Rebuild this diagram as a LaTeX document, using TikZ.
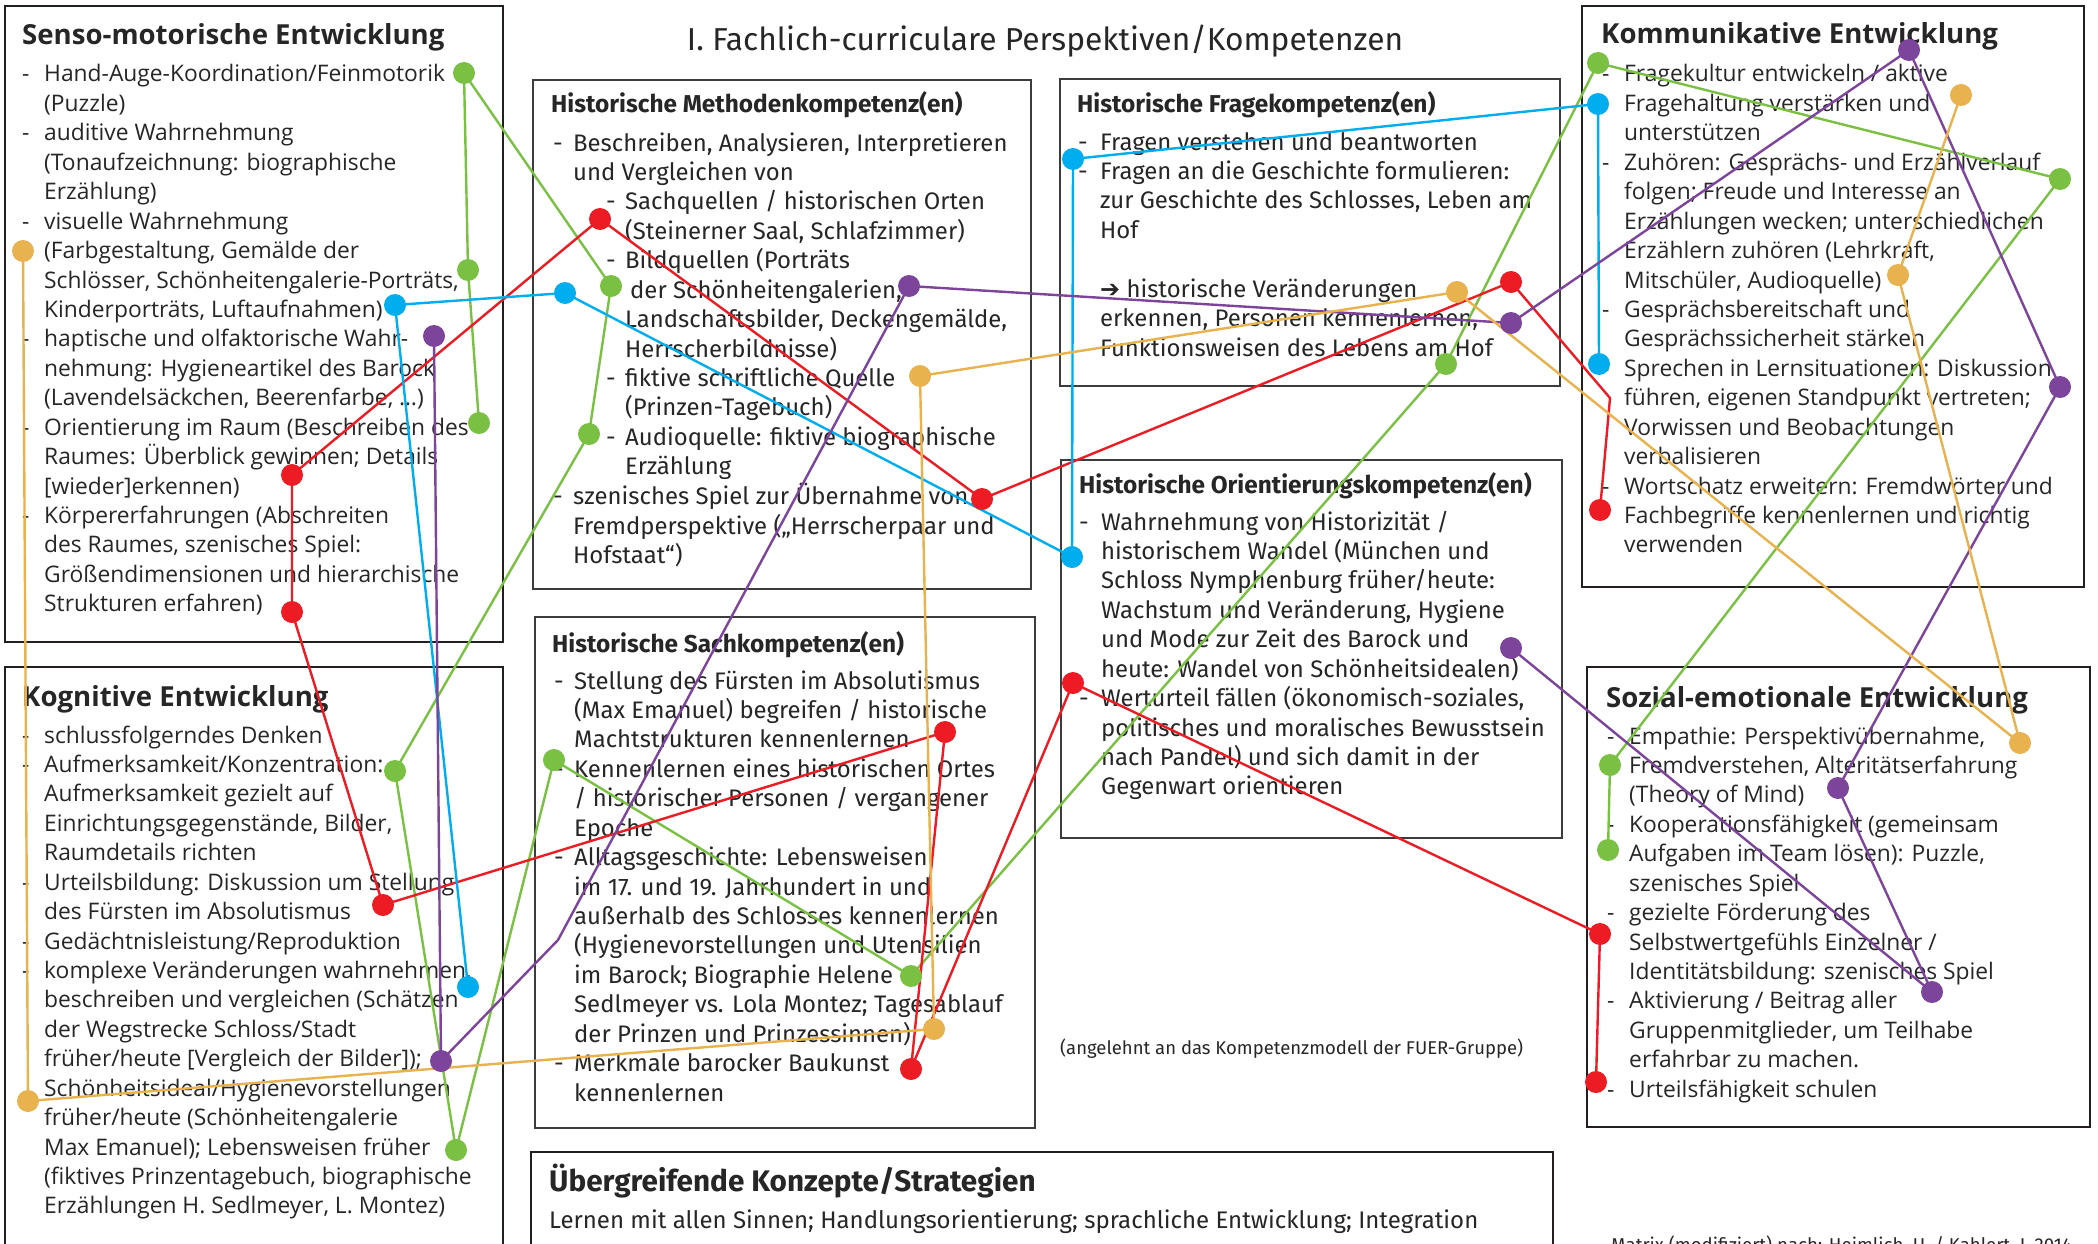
\documentclass[tikz,border=0pt]{standalone}
\usepackage{fontspec}
\setmainfont{Open Sans}
\newfontfamily\sidefont{Open Sans}
\newfontfamily\midfont{Fira Sans}
\newfontfamily\symfont{DejaVu Sans}
\usepackage{array}
\definecolor{cgreen}{HTML}{7AC143}
\definecolor{cred}{HTML}{ED1C24}
\definecolor{cblue}{HTML}{00AEEF}
\definecolor{cpurple}{HTML}{7D449B}
\definecolor{corange}{HTML}{E8B24F}
\definecolor{boxdark}{HTML}{231F20}
\definecolor{boxgray}{HTML}{3C3C3C}
\definecolor{txt}{HTML}{262626}
\pgfdeclarelayer{bg}
\pgfdeclarelayer{lines}
\pgfsetlayers{bg,lines,main}
\tikzset{
  sbox/.style={draw=boxdark, line width=2.8pt},
  mbox/.style={draw=boxgray, line width=1.5pt},
  dot/.style={circle, inner sep=0pt, minimum size=22pt},
  conn/.style={line width=2.4pt, line join=round},
  sidetxt/.style={anchor=base west, inner sep=0pt, text=txt, font=\sidefont\fontsize{22.8}{29.43}\selectfont},
  sidehead/.style={anchor=base west, inner sep=0pt, text=txt, font=\sidefont\bfseries\fontsize{27.6}{32}\selectfont},
  midtxt/.style={anchor=base west, inner sep=0pt, text=txt, font=\midfont\fontsize{23.9}{29.43}\selectfont},
  midhead/.style={anchor=base west, inner sep=0pt, text=txt, font=\midfont\bfseries\fontsize{24.4}{28}\selectfont},
}
\newcommand\Sdot[3]{\node[dot, fill=#1] (#2) at (#3) {};}
\begin{document}
\begin{tikzpicture}[x=1pt,y=-1pt]
\useasboundingbox (0,0) rectangle (2098,1244);
\clip (0,0) rectangle (2098,1244);

\begin{pgfonlayer}{bg}
\fill[white] (0,0) rectangle (2098,1244);
% ---------- boxes ----------
\draw[sbox] (5,6) rectangle (503,642);
\draw[sbox] (5,667) rectangle (503,1270);
\draw[sbox] (1582,6) rectangle (2084,587);
\draw[sbox] (1587,667) rectangle (2090,1127);
\draw[sbox] (531,1152) rectangle (1553,1270);
\draw[mbox] (533,80) rectangle (1031,589);
\draw[mbox] (1060,79) rectangle (1560,386);
\draw[mbox] (535,617) rectangle (1035,1128);
\draw[mbox] (1061,460) rectangle (1562,838);

% ---------- title ----------
\node[anchor=base, inner sep=0pt, text=txt, font=\midfont\fontsize{31.7}{36}\selectfont] (title) at (1045,51) {I. Fachlich-curriculare Perspektiven/Kompetenzen};

% ---------- Senso ----------
\node[sidehead] (sensoH) at (22,45) {Senso-motorische Entwicklung};
\node[sidetxt] (sensoL) at (22,82) {\begin{tabular}[t]{@{}p{22pt}@{}l@{}}
-&Hand-Auge-Koordination/Feinmotorik\\
&(Puzzle)\\
-&auditive Wahrnehmung\\
&(Tonaufzeichnung: biographische\\
&Erzählung)\\
-&visuelle Wahrnehmung\\
&(Farbgestaltung, Gemälde der\\
&Schlösser, Schönheitengalerie-Porträts,\\
&Kinderporträts, Luftaufnahmen)\\
-&haptische und olfaktorische Wahr-\\
&nehmung: Hygieneartikel des Barock\\
&(Lavendelsäckchen, Beerenfarbe, …)\\
-&Orientierung im Raum (Beschreiben des\\
&Raumes: Überblick gewinnen; Details\\
&[wieder]erkennen)\\
-&Körpererfahrungen (Abschreiten\\
&des Raumes, szenisches Spiel:\\
&Größendimensionen und hierarchische\\
&Strukturen erfahren)
\end{tabular}};

% ---------- Kognitive ----------
\node[sidehead] (kogH) at (22,706) {Kognitive Entwicklung};
\node[sidetxt] (kogL) at (22,743) {\begin{tabular}[t]{@{}p{22pt}@{}l@{}}
-&schlussfolgerndes Denken\\
-&Aufmerksamkeit/Konzentration:\\
&Aufmerksamkeit gezielt auf\\
&Einrichtungsgegenstände, Bilder,\\
&Raumdetails richten\\
-&Urteilsbildung: Diskussion um Stellung\\
&des Fürsten im Absolutismus\\
-&Gedächtnisleistung/Reproduktion\\
-&komplexe Veränderungen wahrnehmen,\\
&beschreiben und vergleichen (Schätzen\\
&der Wegstrecke Schloss/Stadt\\
&früher/heute [Vergleich der Bilder]);\\
&Schönheitsideal/Hygienevorstellungen\\
&früher/heute (Schönheitengalerie\\
&Max Emanuel); Lebensweisen früher\\
&(fiktives Prinzentagebuch, biographische\\
&Erzählungen H. Sedlmeyer, L. Montez)
\end{tabular}};

% ---------- Kommunikative ----------
\node[sidehead] (komH) at (1601,44) {Kommunikative Entwicklung};
\node[sidetxt] (komL) at (1602,82) {\begin{tabular}[t]{@{}p{22pt}@{}l@{}}
-&Fragekultur entwickeln / aktive\\
&Fragehaltung verstärken und\\
&unterstützen\\
-&Zuhören: Gesprächs- und Erzählverlauf\\
&folgen; Freude und Interesse an\\
&Erzählungen wecken; unterschiedlichen\\
&Erzählern zuhören (Lehrkraft,\\
&Mitschüler, Audioquelle)\\
-&Gesprächsbereitschaft und\\
&Gesprächssicherheit stärken\\
-&Sprechen in Lernsituationen: Diskussion\\
&führen, eigenen Standpunkt vertreten;\\
&Vorwissen und Beobachtungen\\
&verbalisieren\\
-&Wortschatz erweitern: Fremdwörter und\\
&Fachbegriffe kennenlernen und richtig\\
&verwenden
\end{tabular}};

% ---------- Sozial ----------
\node[sidehead] (sozH) at (1606,707) {Sozial-emotionale Entwicklung};
\node[sidetxt] (sozL) at (1607,744) {\begin{tabular}[t]{@{}p{22pt}@{}l@{}}
-&Empathie: Perspektivübernahme,\\
&Fremdverstehen, Alteritätserfahrung\\
&(Theory of Mind)\\
-&Kooperationsfähigkeit (gemeinsam\\
&Aufgaben im Team lösen): Puzzle,\\
&szenisches Spiel\\
-&gezielte Förderung des\\
&Selbstwertgefühls Einzelner /\\
&Identitätsbildung: szenisches Spiel\\
-&Aktivierung / Beitrag aller\\
&Gruppenmitglieder, um Teilhabe\\
&erfahrbar zu machen.\\
-&Urteilsfähigkeit schulen
\end{tabular}};

% ---------- Methoden ----------
\node[midhead] (metH) at (551,113) {Historische Methodenkompetenz(en)};
\node[midtxt] (metL) at (553,151) {\begin{tabular}[t]{@{}p{20pt}@{}l@{}}
-&Beschreiben, Analysieren, Interpretieren\\
&und Vergleichen von\\
&\hspace{33pt}\makebox[19pt][l]{-}Sachquellen / historischen Orten\\
&\hspace{52pt}(Steinerner Saal, Schlafzimmer)\\
&\hspace{33pt}\makebox[19pt][l]{-}Bildquellen (Porträts\\
&\hspace{57pt}der Schönheitengalerien,\\
&\hspace{52pt}Landschaftsbilder, Deckengemälde,\\
&\hspace{52pt}Herrscherbildnisse)\\
&\hspace{33pt}\makebox[19pt][l]{-}fiktive schriftliche Quelle\\
&\hspace{52pt}(Prinzen-Tagebuch)\\
&\hspace{33pt}\makebox[19pt][l]{-}Audioquelle: fiktive biographische\\
&\hspace{52pt}Erzählung\\
-&szenisches Spiel zur Übernahme von\\
&Fremdperspektive („Herrscherpaar und\\
&Hofstaat“)
\end{tabular}};

% ---------- Frage ----------
\node[midhead] (frH) at (1077,113) {Historische Fragekompetenz(en)};
\node[midtxt] (frL) at (1078,150) {\begin{tabular}[t]{@{}p{22pt}@{}l@{}}
-&Fragen verstehen und beantworten\\
-&Fragen an die Geschichte formulieren:\\
&zur Geschichte des Schlosses, Leben am\\
&Hof\\
&\\
&{\symfont\bfseries ➔} historische Veränderungen\\
&erkennen, Personen kennenlernen,\\
&Funktionsweisen des Lebens am Hof
\end{tabular}};

% ---------- Orientierung ----------
\node[midhead] (orH) at (1079,493) {Historische Orientierungskompetenz(en)};
\node[midtxt] (orL) at (1079,530) {\begin{tabular}[t]{@{}p{22pt}@{}l@{}}
-&Wahrnehmung von Historizität /\\
&historischem Wandel (München und\\
&Schloss Nymphenburg früher/heute:\\
&Wachstum und Veränderung, Hygiene\\
&und Mode zur Zeit des Barock und\\
&heute: Wandel von Schönheitsidealen)\\
-&Werturteil fällen (ökonomisch-soziales,\\
&politisches und moralisches Bewusstsein\\
&nach Pandel) und sich damit in der\\
&Gegenwart orientieren
\end{tabular}};

% ---------- Sach ----------
\node[midhead] (saH) at (552,652) {Historische Sachkompetenz(en)};
\node[midtxt] (saL) at (554,689) {\begin{tabular}[t]{@{}p{20pt}@{}l@{}}
-&Stellung des Fürsten im Absolutismus\\
&(Max Emanuel) begreifen / historische\\
&Machtstrukturen kennenlernen\\
-&Kennenlernen eines historischen Ortes\\
&/ historischer Personen / vergangener\\
&Epoche\\
-&Alltagsgeschichte: Lebensweisen\\
&im 17. und 19. Jahrhundert in und\\
&außerhalb des Schlosses kennenlernen\\
&(Hygienevorstellungen und Utensilien\\
&im Barock; Biographie Helene\\
&Sedlmeyer vs. Lola Montez; Tagesablauf\\
&der Prinzen und Prinzessinnen)\\
-&Merkmale barocker Baukunst\\
&kennenlernen
\end{tabular}};

% ---------- Übergreifende ----------
\node[anchor=base west, inner sep=0pt, text=txt, font=\midfont\bfseries\fontsize{29.7}{34}\selectfont] (ubH) at (549,1191) {Übergreifende Konzepte/Strategien};
\node[anchor=base west, inner sep=0pt, text=txt, font=\midfont\fontsize{24}{28}\selectfont] (ubT) at (549,1228) {Lernen mit allen Sinnen; Handlungsorientierung; sprachliche Entwicklung; Integration};

% ---------- notes ----------
\node[anchor=base west, inner sep=0pt, text=txt, font=\midfont\fontsize{18.5}{22}\selectfont] (note) at (1060,1054) {(angelehnt an das Kompetenzmodell der FUER-Gruppe)};
\node[anchor=base west, inner sep=0pt, text=txt, font=\midfont\fontsize{18.6}{22}\selectfont] (matrix) at (1611,1251) {Matrix (modifiziert) nach: Heimlich, U. / Kahlert, J. 2014};
\end{pgfonlayer}

% ---------- dots ----------
% green
\Sdot{cgreen}{g1}{464,73}
\Sdot{cgreen}{g2}{468,270}
\Sdot{cgreen}{g3}{479,423}
\Sdot{cgreen}{g4}{611,286}
\Sdot{cgreen}{g5}{589,434}
\Sdot{cgreen}{g6}{395,771}
\Sdot{cgreen}{g7}{456,1150}
\Sdot{cgreen}{g8}{554,760}
\Sdot{cgreen}{g9}{911,976}
\Sdot{cgreen}{g10}{1446,364}
\Sdot{cgreen}{g11}{1598,63}
\Sdot{cgreen}{g12}{2060,179}
\Sdot{cgreen}{g13}{1610,765}
\Sdot{cgreen}{g14}{1608,850}
% red
\Sdot{cred}{r1}{600,219}
\Sdot{cred}{r2}{292,475}
\Sdot{cred}{r3}{292,612}
\Sdot{cred}{r4}{383,905}
\Sdot{cred}{r5}{945,732}
\Sdot{cred}{r6}{911,1069}
\Sdot{cred}{r7}{982,499}
\Sdot{cred}{r8}{1511,282}
\Sdot{cred}{r9}{1073,683}
\Sdot{cred}{r10}{1600,934}
\Sdot{cred}{r11}{1596,1082}
\Sdot{cred}{r12}{1600,510}
\coordinate (rc) at (1610,398);
% blue
\Sdot{cblue}{b1}{395,305}
\Sdot{cblue}{b2}{565,293}
\Sdot{cblue}{b3}{468,987}
\Sdot{cblue}{b4}{1073,159}
\Sdot{cblue}{b5}{1072,557}
\Sdot{cblue}{b6}{1598,104}
\Sdot{cblue}{b7}{1599,364}
% purple
\Sdot{cpurple}{p1}{434,336}
\Sdot{cpurple}{p2}{441,1061}
\coordinate (pk) at (558,940);
\Sdot{cpurple}{p3}{909,286}
\Sdot{cpurple}{p4}{1511,323}
\Sdot{cpurple}{p5}{1909,50}
\Sdot{cpurple}{p6}{2060,387}
\Sdot{cpurple}{p7}{1838,788}
\Sdot{cpurple}{p8}{1932,992}
\Sdot{cpurple}{p9}{1511,648}
% orange
\Sdot{corange}{o1}{23,251}
\Sdot{corange}{o2}{28,1101}
\Sdot{corange}{o3}{934,1029}
\Sdot{corange}{o4}{920,376}
\Sdot{corange}{o5}{1457,292}
\Sdot{corange}{o6}{2020,743}
\Sdot{corange}{o7}{1898,275}
\Sdot{corange}{o8}{1961,95}

% ---------- connectors ----------
\begin{pgfonlayer}{lines}
\draw[conn, cgreen] (g3.center) -- (g2.center) -- (g1.center) -- (g4.center) -- (g5.center) -- (g6.center) -- (g7.center) -- (g8.center) -- (g9.center) -- (g10.center) -- (g11.center) -- (g12.center) -- (g13.center) -- (g14.center);
\draw[conn, cred] (r12.center) -- (rc) -- (r8.center) -- (r7.center) -- (r1.center) -- (r2.center) -- (r3.center) -- (r4.center) -- (r5.center) -- (r6.center) -- (r9.center) -- (r10.center) -- (r11.center);
\draw[conn, cblue] (b3.center) -- (b1.center) -- (b2.center) -- (b5.center) -- (b4.center) -- (b6.center) -- (b7.center);
\draw[conn, cpurple] (p1.center) -- (p2.center) -- (pk) -- (p3.center) -- (p4.center) -- (p5.center) -- (p6.center) -- (p7.center) -- (p8.center) -- (p9.center);
\draw[conn, corange] (o1.center) -- (o2.center) -- (o3.center) -- (o4.center) -- (o5.center) -- (o6.center) -- (o7.center) -- (o8.center);
\end{pgfonlayer}
\end{tikzpicture}
\end{document}
